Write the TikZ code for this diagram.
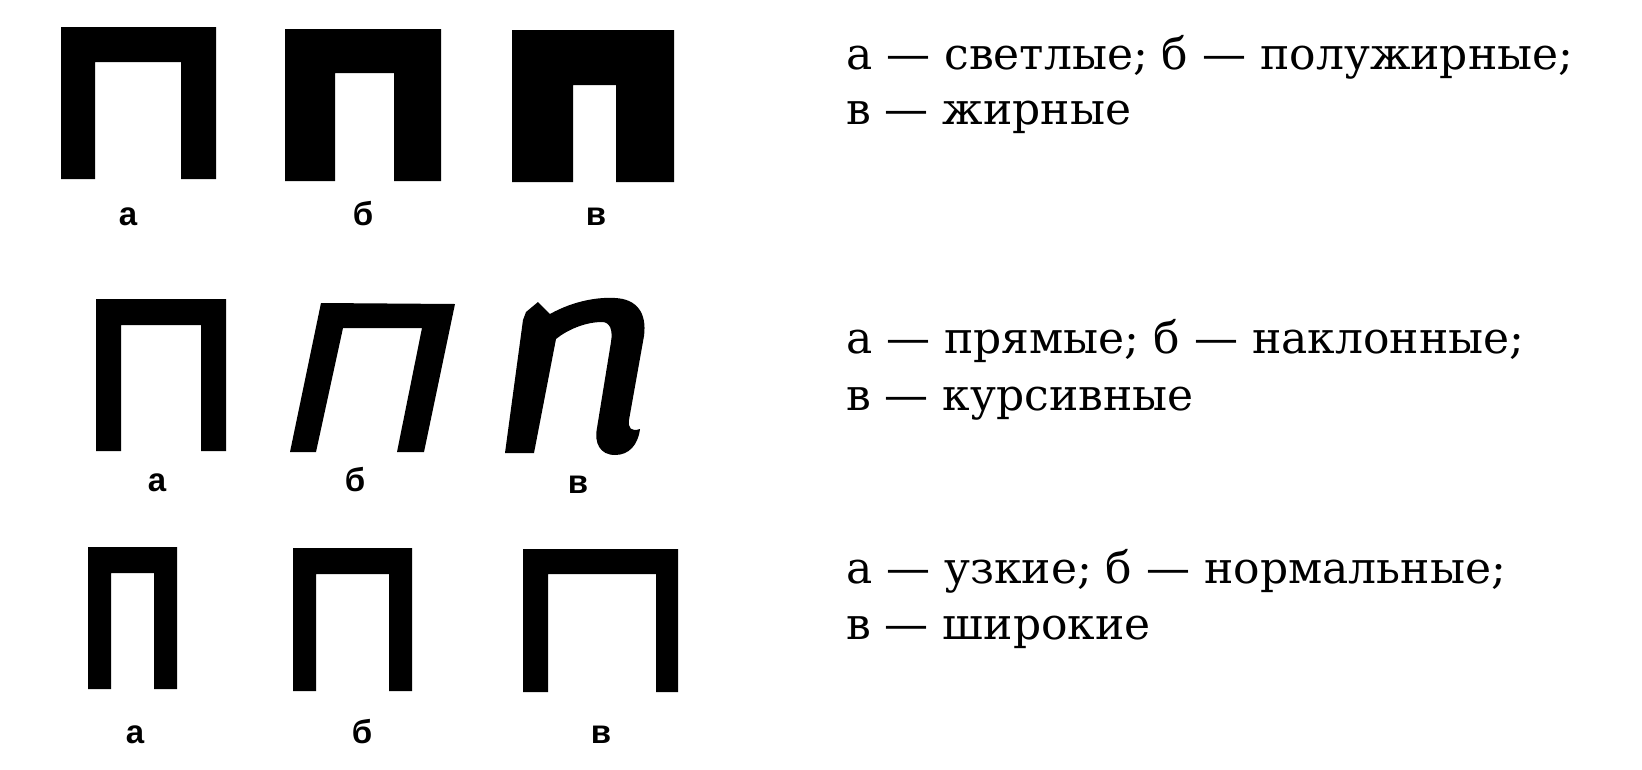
\documentclass[tikz,border=0pt]{standalone}
\usepackage{fontspec}
\newfontfamily\descfamily{DejaVu Serif}
\newfontfamily\lblfamily{Liberation Sans}
\tikzset{
  glyph/.style={fill=black, draw=none},
  lbl/.style={font=\lblfamily\bfseries\fontsize{33pt}{36pt}\selectfont, anchor=base, inner sep=0pt},
  desc/.style={font=\descfamily\fontsize{44pt}{50pt}\selectfont, anchor=base west, inner sep=0pt},
}
\begin{document}
\begin{tikzpicture}[x=1pt,y=-1pt]
\useasboundingbox[fill=white] (0,0) rectangle (1642,769);
% ---- row 1: weight ----
\fill[glyph] (61,179) -- (61,27) -- (216,27) -- (216,179) -- (181,179) -- (181,62) -- (95,62) -- (95,179) -- cycle;
\fill[glyph] (285,181) -- (285,29) -- (441,29) -- (441,181) -- (394,181) -- (394,73) -- (335,73) -- (335,181) -- cycle;
\fill[glyph] (512,182) -- (512,30) -- (674,30) -- (674,182) -- (616,182) -- (616,85) -- (573,85) -- (573,182) -- cycle;
\node[lbl] (l1a) at (128,225) {а};
\node[lbl] (l1b) at (363,225) {б};
\node[lbl] (l1c) at (596,225) {в};
% ---- row 2: slope ----
\fill[glyph] (96,451) -- (96,299) -- (226,299) -- (226,451) -- (201,451) -- (201,325) -- (121,325) -- (121,451) -- cycle;
\fill[glyph] (290,452) -- (321,303) -- (455,304) -- (424,452) -- (397,452) -- (422,328) -- (343,328) -- (316,452) -- cycle;
\fill[glyph] (505,453) -- (523,320) -- (526,312) -- (538,302) -- (550,314)
  .. controls (575,300) and (600,297) .. (615,298)
  .. controls (637,299) and (647,313) .. (644,336)
  -- (629,420)
  .. controls (628,428) and (631,432) .. (640,429)
  .. controls (638,445) and (629,455) .. (615,455)
  .. controls (600,455) and (594,443) .. (597,428)
  -- (611,342)
  .. controls (613,330) and (610,322) .. (602,322)
  .. controls (585,322) and (567,330) .. (556,339)
  -- (534,453) -- cycle;
\node[lbl] (l2a) at (157,491) {а};
\node[lbl] (l2b) at (355,491) {б};
\node[lbl] (l2c) at (578,493) {в};
% ---- row 3: width ----
\fill[glyph] (88,689) -- (88,547) -- (177,547) -- (177,689) -- (154,689) -- (154,573) -- (111,573) -- (111,689) -- cycle;
\fill[glyph] (293,691) -- (293,548) -- (412,548) -- (412,691) -- (389,691) -- (389,574) -- (316,574) -- (316,691) -- cycle;
\fill[glyph] (523,692) -- (523,549) -- (678,549) -- (678,692) -- (656,692) -- (656,574) -- (548,574) -- (548,692) -- cycle;
\node[lbl] (l3a) at (135,743) {а};
\node[lbl] (l3b) at (362,743) {б};
\node[lbl] (l3c) at (601,743) {в};
% ---- descriptions ----
\node[desc] (d1) at (846,69) {а — светлые; б — полужирные;};
\node[desc] (d2) at (846,124) {в — жирные};
\node[desc] (d3) at (846,353) {а — прямые; б — наклонные;};
\node[desc] (d4) at (846,410) {в — курсивные};
\node[desc] (d5) at (846,583) {а — узкие; б — нормальные;};
\node[desc] (d6) at (846,639) {в — широкие};
\end{tikzpicture}
\end{document}
